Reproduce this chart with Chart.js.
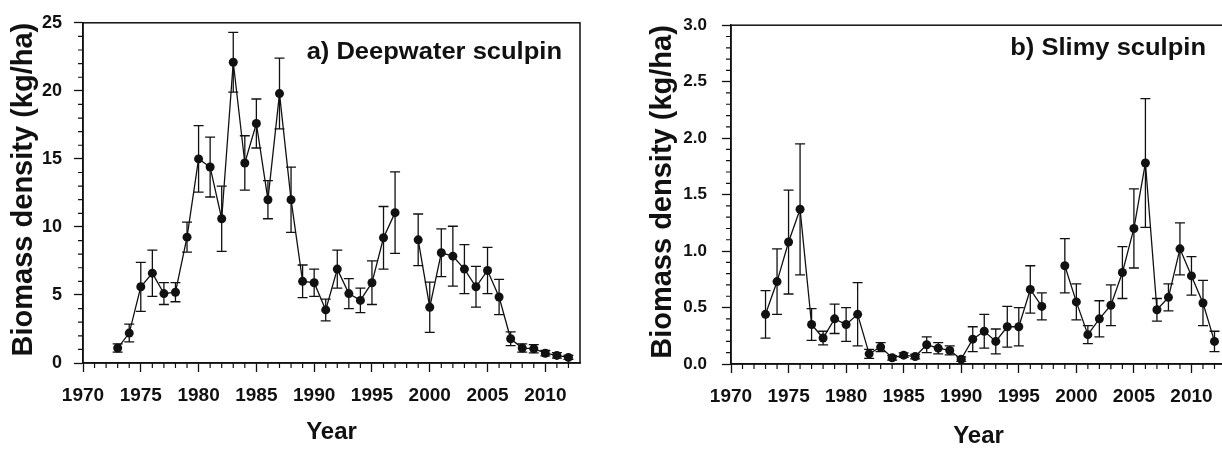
<!DOCTYPE html>
<html lang="en">
<head>
<meta charset="UTF-8">
<title>Sculpin biomass density</title>
<script src="https://cdn.jsdelivr.net/npm/chart.js"></script>
<style>
    html, body {
        margin: 0;
        padding: 0;
        background: #fff;
    }
    body {
        position: relative;
        width: 1222px;
        height: 451px;
        overflow: hidden;
    }
    canvas {
        position: absolute;
        top: 0;
    }
    #chartA { left: 0; }
    #chartB { left: 640px; }
</style>
</head>
<body>
<canvas id="chartA" width="600" height="451"></canvas>
<canvas id="chartB" width="600" height="451"></canvas>

<script>
// survey years (no survey in 1998)
const years = [1973, 1974, 1975, 1976, 1977, 1978, 1979, 1980, 1981, 1982,
               1983, 1984, 1985, 1986, 1987, 1988, 1989, 1990, 1991, 1992,
               1993, 1994, 1995, 1996, 1997, 1998, 1999, 2000, 2001, 2002,
               2003, 2004, 2005, 2006, 2007, 2008, 2009, 2010, 2011, 2012];

// a) deepwater sculpin, kg/ha, mean and +/- error
const deepwaterMean = [1.1, 2.2, 5.6, 6.6, 5.1, 5.2, 9.25, 15.0, 14.4, 10.6,
                       22.1, 14.7, 17.6, 12.0, 19.8, 12.0, 6.0, 5.9, 3.9, 6.9,
                       5.1, 4.6, 5.9, 9.2, 11.05, null, 9.05, 4.1, 8.1, 7.85,
                       6.9, 5.6, 6.8, 4.85, 1.78, 1.1, 1.05, 0.72, 0.56, 0.41];
const deepwaterErr = [0.3, 0.65, 1.8, 1.7, 0.8, 0.7, 1.1, 2.45, 2.2, 2.4,
                      2.2, 2.0, 1.8, 1.4, 2.6, 2.4, 1.2, 1.0, 0.8, 1.4,
                      1.1, 0.9, 1.6, 2.3, 3.0, null, 1.9, 1.85, 1.75, 2.2,
                      1.8, 1.5, 1.7, 1.3, 0.5, 0.3, 0.3, 0.2, 0.2, 0.15];

// b) slimy sculpin, kg/ha, mean and +/- error
const slimyMean = [0.44, 0.73, 1.08, 1.37, 0.35, 0.23, 0.40, 0.35, 0.44, 0.09,
                   0.15, 0.055, 0.078, 0.066, 0.17, 0.14, 0.12, 0.043, 0.22, 0.29,
                   0.2, 0.33, 0.33, 0.66, 0.51, null, 0.87, 0.55, 0.26, 0.4,
                   0.52, 0.81, 1.2, 1.78, 0.48, 0.59, 1.02, 0.78, 0.54, 0.2];
const slimyErr = [0.21, 0.29, 0.46, 0.58, 0.14, 0.06, 0.13, 0.15, 0.28, 0.04,
                  0.04, 0.02, 0.02, 0.02, 0.07, 0.05, 0.04, 0.02, 0.11, 0.15,
                  0.11, 0.18, 0.17, 0.21, 0.12, null, 0.24, 0.16, 0.08, 0.16,
                  0.18, 0.23, 0.35, 0.57, 0.1, 0.12, 0.23, 0.17, 0.2, 0.09];

const yearTicks = { min: 1970, max: 2013, step: 5 };
const INK = '#111';
const FONT = "'Liberation Sans', Arial, Helvetica, sans-serif";

Chart.defaults.font.family = FONT;
Chart.defaults.color = INK;

// error bars, minor ticks, the box around the plot and the panel label
const panelExtras = {
    id: 'panelExtras',
    beforeDatasetsDraw(chart, args, opts) {
        const { ctx, scales: { x, y } } = chart;
        ctx.save();
        ctx.strokeStyle = INK;
        ctx.lineWidth = 1.3;
        ctx.beginPath();
        opts.mean.forEach((m, i) => {
            if (m == null) return;
            const e = opts.err[i];
            const px = x.getPixelForValue(years[i]);
            const top = y.getPixelForValue(m + e);
            const bot = y.getPixelForValue(Math.max(0, m - e));
            ctx.moveTo(px, top); ctx.lineTo(px, bot);
            ctx.moveTo(px - 5, top); ctx.lineTo(px + 5, top);
            ctx.moveTo(px - 5, bot); ctx.lineTo(px + 5, bot);
        });
        ctx.stroke();
        ctx.restore();
    },
    afterDraw(chart, args, opts) {
        const { ctx, chartArea: a, scales: { x, y } } = chart;
        ctx.save();
        ctx.strokeStyle = INK;
        ctx.lineWidth = 1.2;
        ctx.beginPath();
        for (let yr = yearTicks.min; yr < yearTicks.max; yr++) {
            if (yr % 5 === 0) continue;
            const px = x.getPixelForValue(yr);
            ctx.moveTo(px, a.bottom); ctx.lineTo(px, a.bottom + 5);
        }
        const n = Math.round(opts.yMax / opts.yMinor);
        for (let k = 1; k < n; k++) {
            if (k % opts.minorPerMajor === 0) continue;
            const py = y.getPixelForValue(k * opts.yMinor);
            ctx.moveTo(a.left, py); ctx.lineTo(a.left - 5, py);
        }
        ctx.stroke();

        ctx.lineWidth = 1.5;
        ctx.strokeRect(a.left, a.top, a.right - a.left, a.bottom - a.top);

        ctx.fillStyle = INK;
        ctx.font = 'bold 23px ' + FONT;
        ctx.textAlign = 'right';
        ctx.textBaseline = 'alphabetic';
        ctx.translate(opts.labelX, opts.labelY);
        ctx.scale(1.11, 1);
        ctx.fillText(opts.label, 0, 0);
        ctx.restore();
    }
};

function makePanel(id, p) {
    const points = years.map((yr, i) => ({ x: yr, y: p.mean[i] }));
    return new Chart(document.getElementById(id), {
        type: 'line',
        data: {
            datasets: [{
                data: points,
                borderColor: INK,
                borderWidth: 1.3,
                backgroundColor: INK,
                pointRadius: 4.5,
                pointBackgroundColor: INK,
                pointBorderWidth: 0,
                spanGaps: false,
                tension: 0
            }]
        },
        options: {
            responsive: false,
            animation: false,
            devicePixelRatio: 1,
            layout: { padding: { top: p.top, right: p.right, left: 0, bottom: 0 } },
            plugins: {
                legend: { display: false },
                tooltip: { enabled: false },
                panelExtras: {
                    mean: p.mean, err: p.err,
                    yMax: p.yMax, yMinor: p.yMinor, minorPerMajor: p.minorPerMajor,
                    label: p.label, labelX: p.labelX, labelY: p.labelY
                }
            },
            scales: {
                x: {
                    type: 'linear',
                    min: yearTicks.min,
                    max: yearTicks.max,
                    afterFit: s => { s.height = p.xHeight; },
                    ticks: {
                        stepSize: yearTicks.step,
                        includeBounds: false,
                        autoSkip: false,
                        maxRotation: 0,
                        padding: 12,
                        color: INK,
                        font: { size: 19, weight: 'bold' },
                        callback: v => String(v)
                    },
                    grid: {
                        drawOnChartArea: false,
                        tickLength: 9,
                        tickWidth: 1.3,
                        tickColor: INK
                    },
                    border: { color: INK, width: 1.5 },
                    title: {
                        display: true,
                        text: 'Year',
                        color: INK,
                        font: { size: 24, weight: 'bold' },
                        padding: { top: 0, bottom: p.yearPad }
                    }
                },
                y: {
                    min: 0,
                    max: p.yMax,
                    afterFit: s => { s.width = p.yWidth; },
                    ticks: {
                        stepSize: p.yStep,
                        padding: p.yTickPad,
                        color: INK,
                        font: { size: p.yTickSize, weight: 'bold' },
                        callback: v => v.toFixed(p.decimals)
                    },
                    grid: {
                        drawOnChartArea: false,
                        tickLength: 9,
                        tickWidth: 1.3,
                        tickColor: INK
                    },
                    border: { color: INK, width: 1.5 },
                    title: {
                        display: true,
                        align: 'end',
                        text: 'Biomass density (kg/ha)',
                        color: INK,
                        font: { size: 29, weight: 'bold' },
                        padding: { top: p.titlePad, bottom: 0 }
                    }
                }
            }
        },
        plugins: [panelExtras]
    });
}

makePanel('chartA', {
    mean: deepwaterMean, err: deepwaterErr,
    yMax: 25, yStep: 5, yMinor: 1, minorPerMajor: 5, decimals: 0,
    top: 17, right: 20, yWidth: 83, xHeight: 88,
    yTickPad: 12, yTickSize: 18, titlePad: 7, yearPad: 4,
    label: 'a) Deepwater sculpin', labelX: 562, labelY: 59
});

makePanel('chartB', {
    mean: slimyMean, err: slimyErr,
    yMax: 3, yStep: 0.5, yMinor: 0.1, minorPerMajor: 5, decimals: 1,
    top: 19, right: 14, yWidth: 91, xHeight: 87,
    yTickPad: 15, yTickSize: 17, titlePad: 6, yearPad: 0,
    label: 'b) Slimy sculpin', labelX: 1206 - 640, labelY: 55
});
</script>
</body>
</html>
